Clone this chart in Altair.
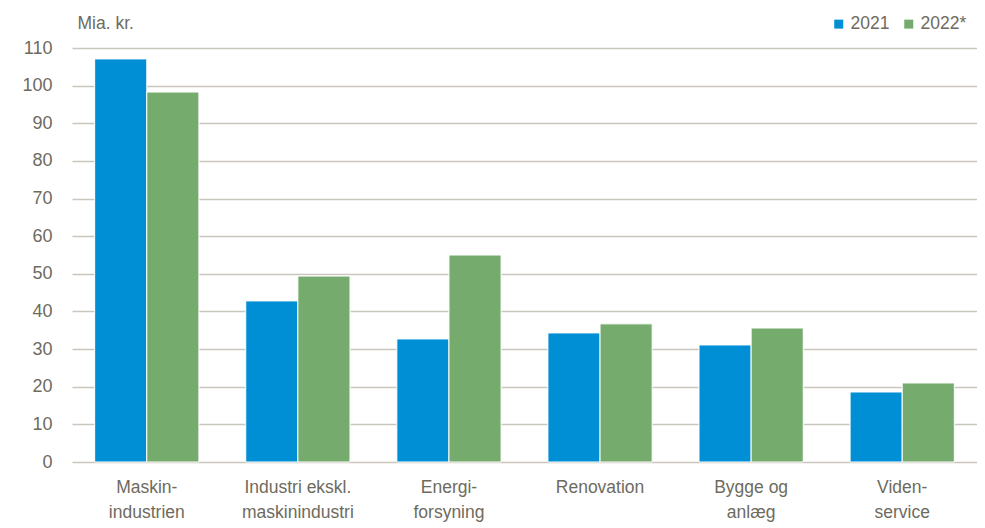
import altair as alt
import pandas as pd

categories = ["Maskin-|industrien", "Industri ekskl.|maskinindustri", "Energi-|forsyning",
              "Renovation", "Bygge og|anlæg", "Viden-|service"]
series = ["2021", "2022*"]
values_2021 = [107.1, 42.8, 32.7, 34.3, 31.1, 18.6]
values_2022 = [98.3, 49.4, 55.0, 36.7, 35.6, 21.0]

rows = []
for c, a, b in zip(categories, values_2021, values_2022):
    rows.append({"cat": c, "serie": series[0], "v": a})
    rows.append({"cat": c, "serie": series[1], "v": b})
df = pd.DataFrame(rows)

TXT = "#6e6b5e"
GRID = "#c9c7bd"
FONT = "Liberation Sans"

chart = alt.Chart(df).mark_bar(stroke="white", strokeWidth=1).encode(
    x=alt.X("cat:N", sort=categories, title=None,
            scale=alt.Scale(paddingInner=0.31, paddingOuter=0.15),
            axis=alt.Axis(labelAngle=0, labelExpr="split(datum.value, '|')",
                          labelFontSize=17.5, labelColor=TXT, labelFont=FONT,
                          labelPadding=16, labelLineHeight=25, ticks=False,
                          domain=False, labelBaseline="top")),
    xOffset=alt.XOffset("serie:N", sort=series),
    y=alt.Y("v:Q", scale=alt.Scale(domain=[0, 110]),
            axis=alt.Axis(values=list(range(0, 111, 10)), title="Mia. kr.",
                          titleAngle=0, titleAlign="left", titleX=5, titleY=-20,
                          titleBaseline="alphabetic", titleFontWeight="normal",
                          titleFontSize=17.5, titleColor=TXT, titleFont=FONT,
                          labelFontSize=18, labelColor=TXT, labelFont=FONT,
                          labelPadding=20, ticks=False, domain=False,
                          gridColor=GRID, gridWidth=1.5)),
    color=alt.Color("serie:N", sort=series,
                    scale=alt.Scale(domain=series, range=["#008fd5", "#76ab6e"]),
                    legend=alt.Legend(title=None, orient="none", direction="horizontal",
                                      legendX=758, legendY=-33, symbolType="square",
                                      symbolSize=81, symbolStrokeWidth=0,
                                      labelFontSize=17.5, labelColor=TXT, labelFont=FONT,
                                      columnPadding=10, labelOffset=3)),
).properties(
    width=905, height=414,
    padding={"left": 64, "top": 40, "right": 0, "bottom": 62},
    autosize=alt.AutoSizeParams(type="none"),
).configure_view(stroke=None).configure_axisX(grid=False)

chart.save("out.html", embed_options={"renderer": "svg", "actions": False})
